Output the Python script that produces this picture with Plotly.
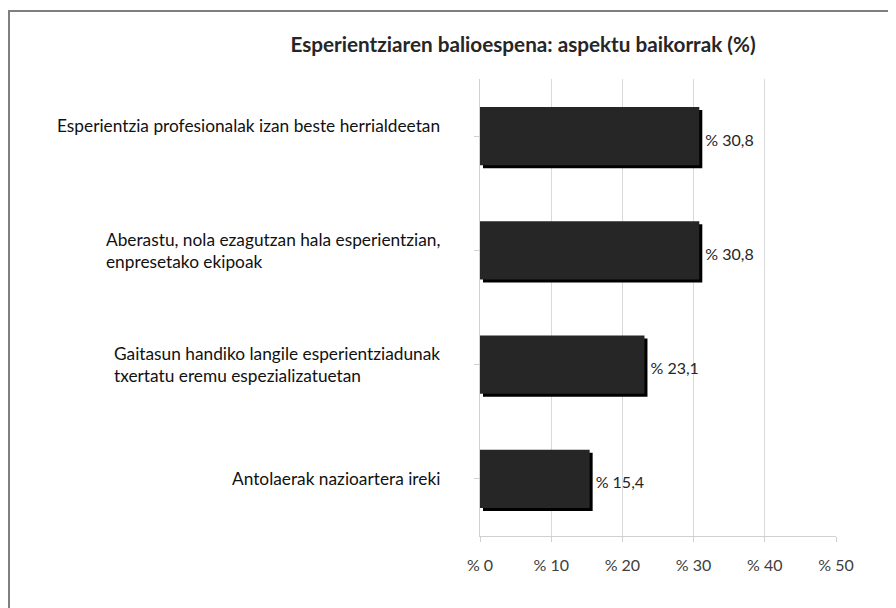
import plotly.graph_objects as go

categories = [
    "Esperientzia profesionalak izan beste herrialdeetan",
    "Aberastu, nola ezagutzan hala esperientzian,<br>enpresetako ekipoak",
    "Gaitasun handiko langile esperientziadunak<br>txertatu eremu espezializatuetan",
    "Antolaerak nazioartera ireki",
]
values = [30.8, 30.8, 23.1, 15.4]
tick_vals = [0, 10, 20, 30, 40, 50]
tick_text = ["% 0", "% 10", "% 20", "% 30", "% 40", "% 50"]
title_text = "Esperientziaren balioespena: aspektu baikorrak (%)"

# page body has an 8px margin; work in page pixel coordinates
OFF = 8
W, H = 896 - OFF, 608 - OFF
PL, PR, PT, PB = 480, 836, 79, 536          # plot area in page pixels
L, R, T, B = PL - OFF, W - (PR - OFF), PT - OFF, H - (PB - OFF)
PW, PH = PR - PL, PB - PT
XMAX = 50.0

def px_x(px):
    return (px - PL) / PW

def px_y(py):
    return (PB - py) / PH

FONT = "Lato"
bar_w = 0.51
dx = 3 * XMAX / PW
dy = 3 / (PH / len(categories))

labels = [("% " + f"{v:.1f}").replace(".", ",") for v in values]

fig = go.Figure()
fig.add_trace(go.Bar(
    y=list(range(len(categories))), x=values, base=dx, orientation="h",
    width=bar_w, offset=-bar_w / 2 + dy,
    marker=dict(color="#000000", line=dict(width=0)),
    text=labels, textposition="outside", cliponaxis=False,
    textfont=dict(family=FONT, size=16, color="#262626"),
    hoverinfo="skip", showlegend=False,
))
fig.add_trace(go.Bar(
    y=list(range(len(categories))), x=values, orientation="h",
    width=bar_w, offset=-bar_w / 2,
    marker=dict(color="#262626", line=dict(width=0)),
    showlegend=False,
))

annotations = []
for i, c in enumerate(categories):
    annotations.append(dict(
        x=px_x(442), xref="paper", y=i, yref="y",
        text=c, showarrow=False, xanchor="right", yanchor="middle",
        align="left", yshift=11 if i == 0 else 0,
        font=dict(family=FONT, size=17.3, color="#111111"),
    ))

shapes = [
    dict(type="line", xref="paper", yref="paper",
         x0=px_x(9), x1=px_x(W + OFF + 5), y0=px_y(11), y1=px_y(11),
         line=dict(color="#7f7f7f", width=2)),
    dict(type="line", xref="paper", yref="paper",
         x0=px_x(9), x1=px_x(9), y0=px_y(10), y1=px_y(H + OFF + 5),
         line=dict(color="#7f7f7f", width=2)),
]

fig.update_layout(
    width=W, height=H,
    margin=dict(l=L, r=R, t=T, b=B, autoexpand=False),
    paper_bgcolor="white", plot_bgcolor="white",
    barmode="overlay",
    title=dict(text="<b>" + title_text + "</b>", x=(523 - OFF) / W, xanchor="center",
               xref="container", y=1 - (45 - OFF) / H, yanchor="middle", yref="container",
               font=dict(family=FONT, size=20.7, color="#262626")),
    xaxis=dict(range=[0, XMAX], tickvals=tick_vals, ticktext=tick_text,
               showgrid=True, gridcolor="#d9d9d9", gridwidth=1,
               zeroline=False, showline=True, linecolor="#d0d0d0",
               ticks="outside", ticklen=5, tickcolor="#d0d0d0",
               ticklabelstandoff=10,
               tickfont=dict(family=FONT, size=16, color="#404040"),
               fixedrange=True),
    yaxis=dict(range=[len(categories) - 0.5, -0.5],
               tickvals=list(range(len(categories))), showticklabels=False,
               ticks="outside", tickson="boundaries", ticklen=5, tickcolor="#d0d0d0",
               showgrid=False, zeroline=False, showline=True, linecolor="#d0d0d0",
               fixedrange=True),
    annotations=annotations,
    shapes=shapes,
)

fig.write_html("out.html")
